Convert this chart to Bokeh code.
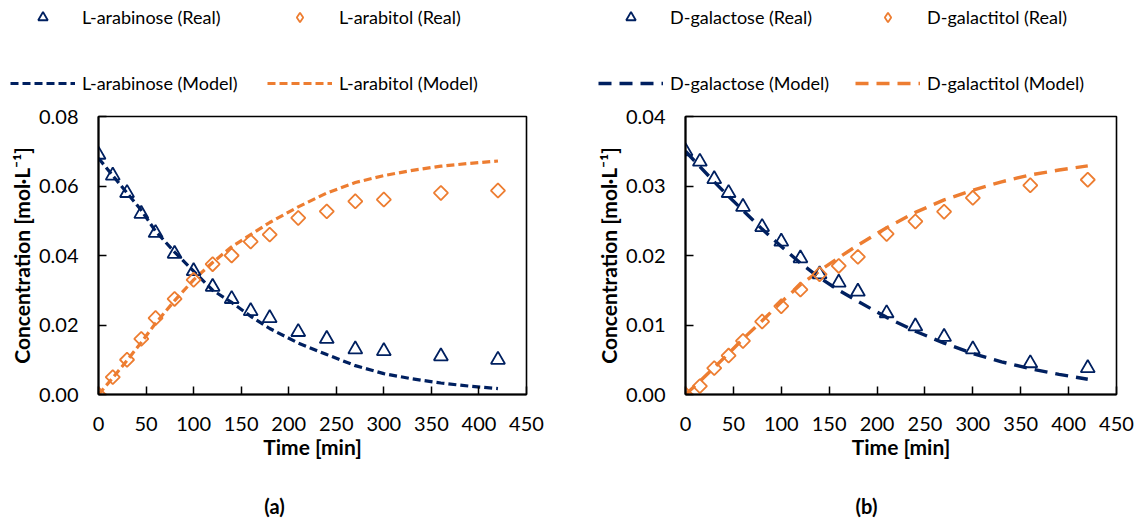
import numpy as np
from bokeh.plotting import figure
from bokeh.layouts import row, column
from bokeh.models import (Range1d, FixedTicker, PrintfTickFormatter, Legend,
                          LegendItem, Label)
from bokeh.embed import file_html
from bokeh.resources import INLINE

# Sampling times of the measured concentrations [min]
time_min = [0, 15, 30, 45, 60, 80, 100, 120, 140, 160, 180, 210, 240, 270, 300, 360, 420]

# (a) L-arabinose -> L-arabitol, measured [mol/L]
arabinose_real = [0.069, 0.063, 0.058, 0.052, 0.0465, 0.0405, 0.0355, 0.031, 0.0275,
                  0.024, 0.022, 0.018, 0.016, 0.013, 0.0125, 0.011, 0.010]
arabitol_real = [0.000, 0.005, 0.010, 0.016, 0.022, 0.0275, 0.033, 0.0375, 0.040,
                 0.044, 0.046, 0.0508, 0.0527, 0.0556, 0.0561, 0.058, 0.0587]

# (b) D-galactose -> D-galactitol, measured [mol/L]
galactose_real = [0.035, 0.0335, 0.031, 0.029, 0.027, 0.0241, 0.022, 0.0196, 0.0173,
                  0.0161, 0.0148, 0.0117, 0.0098, 0.0083, 0.0065, 0.0045, 0.0038]
galactitol_real = [0.000, 0.0012, 0.0038, 0.0056, 0.0077, 0.0105, 0.0127, 0.0151, 0.0173,
                   0.0185, 0.0198, 0.0231, 0.0249, 0.0263, 0.0283, 0.0301, 0.0309]

# Kinetic model curves [mol/L]
model_time = [0, 15, 30, 45, 60, 80, 100, 120, 140, 160, 180, 210, 240, 270, 300, 330, 360, 390, 420]
arabinose_model = [0.068, 0.063, 0.058, 0.053, 0.047, 0.041, 0.0355, 0.030, 0.0265, 0.0225,
                   0.019, 0.0148, 0.0115, 0.0083, 0.006, 0.0045, 0.0033, 0.0024, 0.0017]
arabitol_model = [0.0, 0.0048, 0.0098, 0.015, 0.0205, 0.027, 0.033, 0.038, 0.0425, 0.046,
                  0.0495, 0.054, 0.058, 0.061, 0.063, 0.0645, 0.0657, 0.0665, 0.0672]
galactose_model = [0.035, 0.0328, 0.0306, 0.0285, 0.0265, 0.0238, 0.0213, 0.0189, 0.0168,
                   0.0150, 0.0134, 0.0111, 0.0091, 0.0074, 0.0059, 0.0047, 0.0037, 0.0029, 0.0022]
galactitol_model = [0.0, 0.0019, 0.0039, 0.0059, 0.0080, 0.0106, 0.0133, 0.0158, 0.0178,
                    0.0197, 0.0215, 0.0240, 0.0262, 0.0280, 0.0294, 0.0306, 0.0316, 0.0323, 0.0329]

x_ticks = [0, 50, 100, 150, 200, 250, 300, 350, 400, 450]
y_ticks_a = [0.0, 0.02, 0.04, 0.06, 0.08]
y_ticks_b = [0.0, 0.01, 0.02, 0.03, 0.04]

NAVY = "#002060"
ORANGE = "#ED7D31"
FONT = "Lato"
LEGEND_H = 100   # strip holding the two legend rows
TAG_H = 41       # strip holding the panel letter
NAN = [float("nan")]


def marker_styles():
    tri = dict(marker="triangle", fill_color=None, line_color=NAVY, line_width=1.8)
    dia = dict(fill_color=None, line_color=ORANGE, line_width=1.8)
    return tri, dia


def strip(height):
    s = figure(width=570, height=height, output_backend="svg", toolbar_location=None,
               x_range=Range1d(0, 1), y_range=Range1d(0, 1),
               x_axis_type=None, y_axis_type=None, min_border=0)
    s.outline_line_color = None
    s.grid.visible = False
    return s


def legend_strip(sugar, polyol, dash, lw, x0):
    """Legend rows drawn in their own strip above a chart (NaN-only key glyphs)."""
    lf = strip(LEGEND_H)
    tri, dia = marker_styles()
    s_sr = lf.scatter(NAN, NAN, **tri)
    s_pr = lf.scatter(NAN, NAN, marker="diamond", **dia)
    s_sm = lf.line(NAN, NAN, line_color=NAVY, line_width=lw, line_dash=dash)
    s_pm = lf.line(NAN, NAN, line_color=ORANGE, line_width=lw, line_dash=dash)

    common = dict(orientation="horizontal", glyph_width=65, glyph_height=24,
                  label_height=24, label_width=170, label_standoff=7, spacing=15,
                  padding=0, margin=0, border_line_color=None, background_fill_alpha=0,
                  label_text_font=FONT, label_text_font_size="18px",
                  label_text_color="black")
    leg_real = Legend(items=[LegendItem(label=f"{sugar} (Real)", renderers=[s_sr]),
                             LegendItem(label=f"{polyol} (Real)", renderers=[s_pr])],
                      location=(x0, LEGEND_H - 29), **common)
    leg_model = Legend(items=[LegendItem(label=f"{sugar} (Model)", renderers=[s_sm]),
                              LegendItem(label=f"{polyol} (Model)", renderers=[s_pm])],
                       location=(x0, LEGEND_H - 95), **common)
    lf.add_layout(leg_real, "center")
    lf.add_layout(leg_model, "center")
    return lf


def tag_strip(tag, x):
    ts = strip(TAG_H)
    ts.add_layout(Label(x=x, y=16, x_units="screen", y_units="screen", text=tag,
                        text_align="center", text_baseline="middle", text_font=FONT,
                        text_font_size="20px", text_font_style="bold",
                        text_color="black"))
    return ts


def panel(sugar_real, polyol_real, sugar_model, polyol_model,
          y_max, y_ticks, dash, lw, border_left, border_right):
    h = 521 - LEGEND_H - TAG_H
    p = figure(width=570, height=h, output_backend="svg", toolbar_location=None,
               x_range=Range1d(0, 450), y_range=Range1d(0, y_max),
               min_border_left=border_left, min_border_right=border_right,
               min_border_top=116 - LEGEND_H, min_border_bottom=h - (116 - LEGEND_H) - 278)
    p.background_fill_color = "white"
    p.border_fill_color = "white"
    p.outline_line_color = "black"
    p.outline_line_width = 1.6
    p.grid.visible = False

    for ax in (p.xaxis[0], p.yaxis[0]):
        ax.axis_line_color = "black"
        ax.axis_line_width = 2
        ax.major_tick_in = 8
        ax.major_tick_out = 0
        ax.major_tick_line_width = 1.5
        ax.minor_tick_line_color = None
        ax.major_label_text_font = FONT
        ax.major_label_text_font_size = "20px"
        ax.major_label_text_color = "black"
        ax.axis_label_text_font = FONT
        ax.axis_label_text_font_size = "21px"
        ax.axis_label_text_font_style = "bold"
        ax.axis_label_text_color = "black"

    p.xaxis.ticker = FixedTicker(ticks=x_ticks)
    p.xaxis.axis_label = "Time [min]"
    p.xaxis.major_label_standoff = 22
    p.xaxis.axis_label_standoff = 0
    p.yaxis.ticker = FixedTicker(ticks=y_ticks)
    p.yaxis.formatter = PrintfTickFormatter(format="%.2f")
    p.yaxis.axis_label = "Concentration [mol·L⁻¹]"
    p.yaxis.major_label_standoff = 20
    p.yaxis.axis_label_standoff = 2

    tri, dia = marker_styles()
    p.line(model_time, sugar_model, line_color=NAVY, line_width=lw, line_dash=dash)
    p.line(model_time, polyol_model, line_color=ORANGE, line_width=lw, line_dash=dash)
    p.scatter(time_min, sugar_real, size=14, **tri)
    p.scatter(time_min, polyol_real, marker="square", angle=np.pi / 4, size=10, **dia)
    return p


leg_a = legend_strip("L-arabinose", "L-arabitol", "8 4", 3.2, 10)
leg_b = legend_strip("D-galactose", "D-galactitol", "13 8", 3.4, 28)
pa = panel(arabinose_real, arabitol_real, arabinose_model, arabitol_model,
           0.08, y_ticks_a, "8 4", 3.2, 98, 44)
pb = panel(galactose_real, galactitol_real, galactose_model, galactitol_model,
           0.04, y_ticks_b, "13 8", 3.4, 115, 24)
tag_a = tag_strip("(a)", 274)
tag_b = tag_strip("(b)", 296)

layout = column(row(leg_a, leg_b, spacing=0),
                row(pa, pb, spacing=0),
                row(tag_a, tag_b, spacing=0), spacing=0)
open("out.html", "w").write(file_html(layout, INLINE))
